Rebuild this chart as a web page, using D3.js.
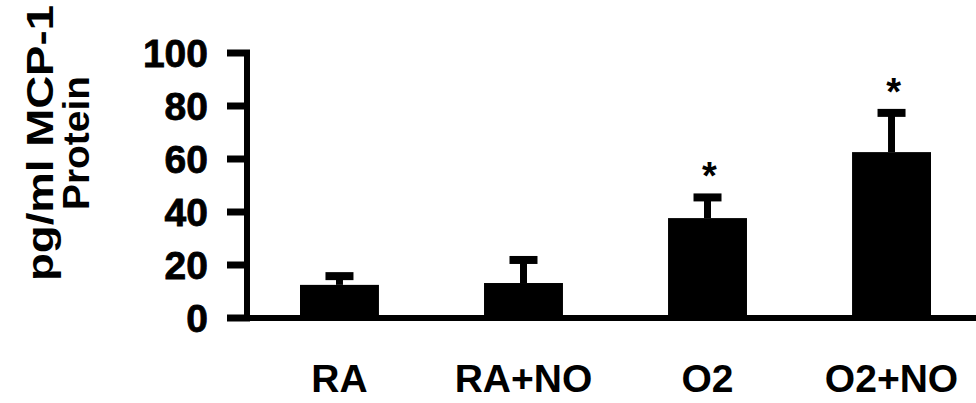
<!DOCTYPE html>
<html>
<head>
<meta charset="utf-8">
<script src="https://cdn.jsdelivr.net/npm/d3@7"></script>
<style>
  html, body { margin: 0; padding: 0; background: #fff; }
  svg { display: block; font-family: "Liberation Sans", Arial, sans-serif; font-weight: bold; }
</style>
</head>
<body>
<div id="chart"></div>
<script>
// -------------------------------------------------------------------------
// Data

const categories = ['RA', 'RA+NO', 'O2', 'O2+NO'];
const means = [12.5, 13.2, 37.7, 62.6];
const errors = [3.3, 8.7, 7.8, 14.8];
const significant = [false, false, true, true];
const yTicks = [0, 20, 40, 60, 80, 100];
const yTitle = ['pg/ml MCP-1', 'Protein'];

// -------------------------------------------------------------------------
// Layout

const width = 976;
const height = 403;

const svg = d3.select('#chart').append('svg')
  .attr('width', width)
  .attr('height', height);

const y = d3.scaleLinear()
  .domain([0, 100])
  .range([318, 53]);

const x = d3.scaleBand()
  .domain(categories)
  .range([300, 931])
  .paddingInner(0.571)
  .paddingOuter(0);

const rows = categories.map((c, i) => ({
  cat: c,
  mean: means[i],
  err: errors[i],
  sig: significant[i]
}));

// Y axis: custom thick ticks, like the printed figure
const yAxis = svg.append('g').attr('class', 'y-axis');

yAxis.append('line')
  .attr('x1', 247).attr('x2', 247)
  .attr('y1', y(100) - 3).attr('y2', y(0) + 3)
  .attr('stroke', '#000')
  .attr('stroke-width', 6);

yAxis.selectAll('line.tick')
  .data(yTicks)
  .enter().append('line')
  .attr('class', 'tick')
  .attr('x1', 227).attr('x2', 250)
  .attr('y1', d => y(d)).attr('y2', d => y(d))
  .attr('stroke', '#000')
  .attr('stroke-width', 7);

yAxis.selectAll('text')
  .data(yTicks)
  .enter().append('text')
  .attr('x', 208)
  .attr('y', d => y(d))
  .attr('dy', '0.36em')
  .attr('text-anchor', 'end')
  .attr('font-size', 39)
  .attr('stroke', '#000')
  .attr('stroke-width', 0.8)
  .text(d => d);

// Y title, two rotated lines (the first one is printed wide)
const titleLengths = [276, 134];
const title = svg.append('g')
  .attr('transform', 'translate(0,143) rotate(-90)');

title.selectAll('text')
  .data(yTitle)
  .enter().append('text')
  .attr('x', 0)
  .attr('y', (d, i) => 53 + i * 36)
  .attr('text-anchor', 'middle')
  .attr('font-size', 36)
  .attr('textLength', (d, i) => titleLengths[i])
  .attr('lengthAdjust', 'spacingAndGlyphs')
  .text(d => d);

// Bars
svg.append('g').selectAll('rect')
  .data(rows)
  .enter().append('rect')
  .attr('x', d => x(d.cat))
  .attr('y', d => y(d.mean))
  .attr('width', x.bandwidth())
  .attr('height', d => y(0) - y(d.mean))
  .attr('fill', '#000');

// Error bars (upper only)
const err = svg.append('g');
err.selectAll('line.stem')
  .data(rows)
  .enter().append('line')
  .attr('class', 'stem')
  .attr('x1', d => x(d.cat) + x.bandwidth() / 2)
  .attr('x2', d => x(d.cat) + x.bandwidth() / 2)
  .attr('y1', d => y(d.mean))
  .attr('y2', d => y(d.mean + d.err))
  .attr('stroke', '#000')
  .attr('stroke-width', 7);

err.selectAll('line.cap')
  .data(rows)
  .enter().append('line')
  .attr('class', 'cap')
  .attr('x1', d => x(d.cat) + x.bandwidth() / 2 - 14)
  .attr('x2', d => x(d.cat) + x.bandwidth() / 2 + 14)
  .attr('y1', d => y(d.mean + d.err))
  .attr('y2', d => y(d.mean + d.err))
  .attr('stroke', '#000')
  .attr('stroke-width', 8);

// Significance stars
svg.append('g').selectAll('text')
  .data(rows.filter(d => d.sig))
  .enter().append('text')
  .attr('x', d => x(d.cat) + x.bandwidth() / 2 + 2)
  .attr('y', d => y(d.mean + d.err) - 8)
  .attr('text-anchor', 'middle')
  .attr('font-size', 38)
  .text('*');

// X axis line, runs off the right edge
svg.append('line')
  .attr('x1', 227).attr('x2', width)
  .attr('y1', y(0)).attr('y2', y(0))
  .attr('stroke', '#000')
  .attr('stroke-width', 6);

// Category labels
svg.append('g').selectAll('text')
  .data(categories)
  .enter().append('text')
  .attr('x', d => x(d) + x.bandwidth() / 2)
  .attr('y', 392)
  .attr('text-anchor', 'middle')
  .attr('font-size', 39)
  .text(d => d);
</script>
</body>
</html>
